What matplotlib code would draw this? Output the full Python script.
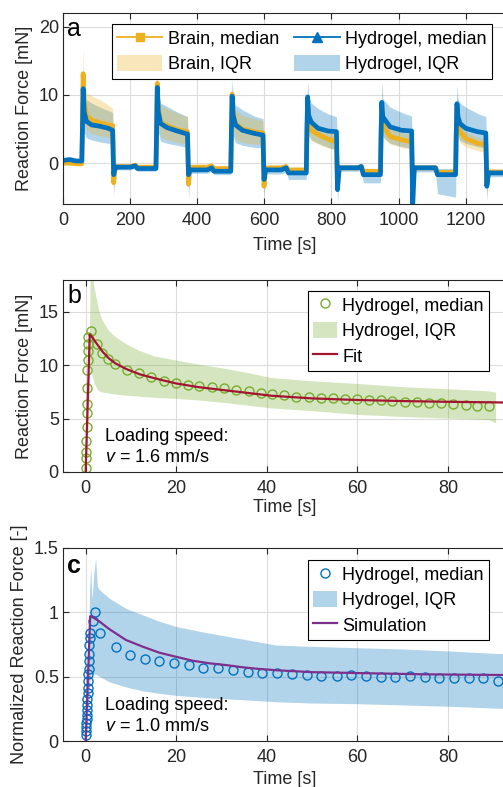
import numpy as np
import matplotlib
matplotlib.use("Agg")
import matplotlib.pyplot as plt
from matplotlib.lines import Line2D
from matplotlib.patches import Patch

plt.rcParams['font.family'] = ['Liberation Sans', 'DejaVu Sans']
plt.rcParams['mathtext.fontset'] = 'custom'
plt.rcParams['mathtext.it'] = 'Liberation Sans:italic'
plt.rcParams['mathtext.rm'] = 'Liberation Sans'

YEL = '#EDB120'
BLU = '#0072BD'
GRN = '#77AC30'
RED = '#A2142F'
PUR = '#7E2F8E'
DK = '#262626'
FS = 13

# ---- panel a: cyclic loading, median and IQR
t_a = [0, 20, 40, 56, 58, 60, 63, 70, 85, 110, 135, 148, 151, 156, 200, 215, 222, 277,
       279, 281, 284, 291, 310, 340, 371, 374, 379, 430, 443, 450, 500,
       502, 504, 507, 514, 535, 570, 596, 599, 604, 650, 665, 672, 725,
       727, 729, 732, 740, 760, 790, 815, 818, 823, 880, 889, 895, 946,
       948, 950, 953, 960, 975, 1010, 1039, 1042, 1047, 1110, 1116, 1170,
       1172, 1174, 1177, 1183, 1200, 1235, 1260, 1263, 1268, 1350]
brain_med = [0.0, 0.0, -0.1, -0.1, 6.0, 13.1, 9.0, 7.0, 6.3, 5.9, 5.6, 5.5, -2.9, -0.5, -0.5, -0.3, -0.6, -0.6,
             5.0, 11.7, 8.0, 6.0, 5.5, 4.9, 4.6, -3.1, -0.6, -0.6, -0.4, -0.8, -0.8,
             5.0, 10.1, 7.5, 5.8, 5.0, 4.6, 4.4, -3.4, -0.7, -0.7, -0.5, -1.0, -1.0,
             4.5, 8.7, 5.8, 4.8, 4.2, 3.5, 3.1, -3.5, -0.7, -0.7, -0.5, -1.2, -1.2,
             4.5, 8.3, 5.8, 5.0, 3.9, 3.4, 3.1, -3.0, -0.7, -0.7, -1.35, -1.35,
             4.5, 8.0, 5.5, 4.6, 3.6, 2.9, 2.7, -3.0, -1.3, -1.3]
brain_q3 = [0.3, 0.3, 0.2, 0.2, 9.0, 17.0, 11.5, 10.3, 9.9, 9.3, 8.5, 8.0, 1.0, -0.2, -0.2, 0.0, -0.3, -0.3,
            8.5, 13.0, 10.5, 8.5, 8.0, 7.3, 6.8, 0.5, -0.3, -0.3, -0.1, -0.5, -0.5,
            8.0, 11.5, 9.5, 7.8, 7.0, 6.5, 6.2, 0.5, -0.4, -0.4, -0.2, -0.7, -0.7,
            7.0, 10.0, 7.5, 6.2, 5.6, 4.8, 4.4, 0.5, -0.4, -0.4, -0.2, -0.9, -0.9,
            7.0, 9.5, 7.0, 6.2, 5.0, 4.5, 4.2, 0.5, -0.4, -0.4, -1.0, -1.0,
            6.5, 9.0, 6.5, 5.6, 4.6, 3.8, 3.5, 0.5, -1.0, -1.0]
brain_q1 = [-0.3, -0.3, -0.4, -0.4, 3.0, 9.0, 6.0, 4.8, 4.3, 4.0, 3.8, 3.7, -5.0, -0.8, -0.8, -0.6, -0.9, -0.9,
            2.5, 9.5, 5.5, 3.8, 3.4, 3.0, 2.8, -5.0, -0.9, -0.9, -0.7, -1.1, -1.1,
            2.5, 8.5, 5.0, 3.5, 3.0, 2.8, 2.7, -5.0, -1.0, -1.0, -0.8, -1.3, -1.3,
            2.0, 7.0, 4.0, 3.3, 2.8, 2.2, 1.9, -5.0, -1.0, -1.0, -0.8, -1.5, -1.5,
            2.0, 6.5, 4.0, 3.5, 2.8, 2.3, 2.0, -5.0, -1.0, -1.0, -1.7, -1.7,
            2.0, 6.0, 3.8, 3.0, 2.4, 1.8, 1.6, -5.0, -1.6, -1.6]
hydro_med = [0.4, 0.5, 0.3, 0.3, 5.0, 10.9, 7.5, 6.1, 5.6, 5.4, 5.1, 4.8, -1.7, -0.6, -0.6, -0.4, -0.8, -0.8,
             5.0, 11.1, 7.5, 5.8, 5.2, 4.7, 4.25, -1.7, -1.0, -1.0, -0.7, -1.2, -1.2,
             5.0, 9.8, 7.0, 5.6, 4.8, 4.35, 4.1, -2.4, -1.0, -1.0, -0.7, -1.45, -1.45,
             5.0, 9.7, 7.0, 6.0, 5.1, 4.7, 4.6, -3.9, -0.7, -0.7, -0.5, -1.7, -1.7,
             4.5, 8.9, 6.8, 6.3, 5.3, 4.8, 4.7, -6.5, -0.7, -0.7, -1.7, -1.7,
             4.5, 8.7, 6.8, 5.8, 5.1, 4.6, 4.4, -3.4, -1.45, -1.45]
hydro_q3 = [0.8, 0.9, 0.7, 0.7, 8.0, 14.0, 10.5, 9.3, 8.8, 8.2, 7.7, 7.4, 1.0, -0.2, -0.2, 0.0, -0.4, -0.4,
            8.0, 13.5, 10.5, 8.8, 8.3, 7.5, 6.8, 1.0, -0.6, -0.6, -0.3, -0.7, -0.7,
            8.0, 12.5, 9.8, 8.5, 7.8, 6.9, 6.5, 0.5, -0.5, -0.5, -0.2, -0.8, -0.8,
            8.0, 12.0, 9.8, 8.8, 8.0, 7.2, 6.8, 0.5, -0.2, -0.2, 0.0, -1.0, -1.0,
            7.5, 12.0, 9.5, 9.0, 8.2, 7.4, 6.9, 0.5, -0.2, -0.2, -0.8, -0.8,
            7.5, 11.5, 9.5, 8.8, 8.2, 7.3, 6.8, 0.5, -1.0, -1.0]
hydro_q1 = [0.0, 0.1, -0.1, -0.1, 2.0, 7.5, 4.5, 3.7, 3.4, 3.1, 2.9, 2.7, -4.5, -1.0, -1.0, -0.8, -1.2, -1.2,
            2.0, 8.0, 4.5, 3.2, 2.9, 2.6, 2.3, -5.0, -1.5, -1.5, -1.2, -1.7, -1.7,
            2.0, 7.0, 4.0, 3.0, 2.6, 2.3, 2.2, -5.0, -1.6, -1.6, -1.3, -2.4, -2.4,
            2.0, 6.5, 4.2, 3.4, 2.9, 2.3, 2.0, -6.0, -1.2, -1.2, -1.0, -2.9, -2.9,
            2.0, 6.0, 4.0, 3.5, 2.9, 2.4, 2.2, -7.0, -1.3, -1.3, -4.5, -5.0,
            2.0, 6.0, 4.0, 3.3, 2.9, 2.4, 2.2, -5.5, -2.0, -2.0]

# ---- panel b: single relaxation, hydrogel, v = 1.6 mm/s
t_b = [0.0, 0.05, 0.1, 0.15, 0.2, 0.25, 0.3, 0.35, 0.4, 0.45, 0.5, 0.55, 0.6,
       1.1, 2.6, 3.7, 5.0, 6.5, 9.1, 11.8, 14.4, 17.2, 19.9, 22.5, 25.1, 27.9, 30.6,
       33.3, 36.0, 38.7, 41.2, 43.8, 46.5, 49.3, 51.9, 54.5, 57.3, 59.9, 62.5, 65.2,
       67.7, 70.5, 73.1, 75.8, 78.5, 81.2, 83.9, 86.5, 89.1]
med_b = [0.4, 1.3, 1.9, 2.9, 4.2, 5.5, 6.4, 7.9, 9.6, 10.5, 11.3, 12.0, 12.7,
         13.2, 12.0, 11.2, 10.56, 10.1, 9.6, 9.25, 8.87, 8.56, 8.37, 8.2, 8.06, 7.93, 7.84,
         7.69, 7.59, 7.43, 7.33, 7.22, 7.06, 7.03, 6.96, 6.91, 6.84, 6.84, 6.75, 6.72,
         6.68, 6.59, 6.56, 6.50, 6.44, 6.37, 6.28, 6.22, 6.22]
t_band_b = [0, 0.4, 0.8, 1.0, 1.4, 2.0, 2.5, 3.0, 3.7, 5, 6.5, 9, 11.8, 15, 19.9, 25, 31, 36,
            41, 50, 60, 70, 80, 89, 90.5]
q3_b = [0, 5, 12, 18.5, 18.5, 17, 16, 15, 14.2, 13.3, 12.7, 12.0, 11.4, 10.9, 10.5, 10.1, 9.7,
        9.3, 8.85, 8.55, 8.3, 8.0, 7.8, 7.6, 7.5]
q1_b = [0, 3, 8, 10.5, 9.0, 8.2, 7.8, 7.6, 7.5, 7.4, 7.3, 7.2, 7.1, 7.0, 6.9, 6.75, 6.5,
        6.25, 6.0, 5.75, 5.4, 5.2, 5.05, 4.9, 4.6]
t_fit = [0, 0.9, 1.5, 2.5, 3.7, 5, 6.5, 9, 12, 14.4, 17, 20, 25, 31, 36, 41, 50, 60, 70, 80, 90, 95]
fit_b = [0, 12.9, 12.6, 12.0, 11.3, 10.7, 10.2, 9.65, 9.15, 8.88, 8.6, 8.3, 7.95, 7.65, 7.4,
         7.15, 6.9, 6.75, 6.65, 6.58, 6.53, 6.5]

# ---- panel c: normalized, v = 1.0 mm/s
t_c = [0.0, 0.05, 0.1, 0.15, 0.2, 0.25, 0.3, 0.35, 0.4, 0.45, 0.5, 0.55, 0.6, 0.65, 0.7,
       0.75, 0.8, 0.85, 0.9,
       1.6, 2.0, 3.2, 6.7, 9.7, 13.1, 16.2, 19.5, 22.8, 26.0, 29.2, 32.5, 35.8, 39.0, 42.3,
       45.5, 48.8, 52.0, 55.4, 58.5, 61.9, 65.2, 68.3, 71.6, 74.9, 78.1, 81.3, 84.7, 87.8, 91.1]
med_c = [0.05, 0.08, 0.11, 0.14, 0.17, 0.2, 0.24, 0.28, 0.33, 0.37, 0.41, 0.47, 0.52, 0.56,
         0.62, 0.68, 0.75, 0.80, 0.84,
         0.93, 1.0, 0.84, 0.73, 0.67, 0.64, 0.62, 0.605, 0.59, 0.57, 0.565, 0.55, 0.54, 0.53,
         0.526, 0.521, 0.513, 0.507, 0.507, 0.510, 0.505, 0.50, 0.50, 0.507, 0.50, 0.487,
         0.487, 0.492, 0.487, 0.469]
t_band_c = [0, 0.5, 0.9, 1.1, 1.4, 1.8, 2.2, 2.6, 3.2, 5.2, 8.9, 12.6, 16.3, 19.9, 27, 35,
            42, 50, 60, 70, 80, 91, 95]
q3_c = [0, 0.5, 1.2, 1.35, 1.1, 1.3, 1.42, 1.2, 1.17, 1.11, 1.03, 0.98, 0.93, 0.89, 0.84,
        0.79, 0.746, 0.735, 0.725, 0.715, 0.70, 0.68, 0.68]
q1_c = [0, 0.2, 0.45, 0.5, 0.52, 0.52, 0.52, 0.51, 0.5, 0.46, 0.42, 0.39, 0.37, 0.355,
        0.335, 0.32, 0.305, 0.295, 0.29, 0.28, 0.27, 0.255, 0.25]
t_sim = [0, 1.0, 1.4, 3, 5.2, 8.9, 12.6, 16.3, 19.9, 23.6, 27.3, 31, 34.6, 38.3, 42, 50, 63,
         75, 91.4, 95]
sim_c = [0, 0.97, 0.966, 0.93, 0.87, 0.785, 0.733, 0.686, 0.655, 0.624, 0.604, 0.59, 0.573,
         0.56, 0.55, 0.535, 0.526, 0.518, 0.513, 0.512]


def style(ax):
    ax.grid(True, color='#dcdcdc', lw=0.8)
    ax.set_axisbelow(True)
    ax.tick_params(direction='in', length=4, width=0.8, top=True, right=True,
                   colors=DK, labelsize=FS)
    ax.tick_params(axis='x', pad=6)
    ax.tick_params(axis='y', pad=3)
    for s in ax.spines.values():
        s.set_color(DK)
        s.set_linewidth(0.8)


def legend(ax, handles, labels, anchor, **kw):
    lg = ax.legend(handles, labels, loc='upper left', bbox_to_anchor=anchor,
                   borderaxespad=0, fontsize=FS, handleheight=1.0, handletextpad=0.3,
                   labelspacing=0.4, fancybox=False, framealpha=1, edgecolor='black',
                   borderpad=0.3, **kw)
    lg.get_frame().set_linewidth(0.8)


fig = plt.figure(figsize=(5.03, 7.87), dpi=100)
W = 453 / 503
L = 63 / 503
ax_a = fig.add_axes([L, (787 - 204) / 787, W, 191 / 787])
ax_b = fig.add_axes([L, (787 - 472) / 787, W, 192 / 787])
ax_c = fig.add_axes([L, (787 - 741) / 787, W, 193 / 787])

# panel a
ax_a.fill_between(t_a, hydro_q1, hydro_q3, color=BLU, alpha=0.3, lw=0)
ax_a.fill_between(t_a, brain_q1, brain_q3, color=YEL, alpha=0.3, lw=0)
ax_a.plot(t_a, brain_med, color=YEL, lw=3.4)
ax_a.plot(t_a, hydro_med, color=BLU, lw=3.4)
ax_a.set_xlim(0, 1350)
ax_a.set_ylim(-6, 22)
ax_a.set_xticks(range(0, 1400, 200))
ax_a.set_yticks([0, 10, 20])
style(ax_a)
ax_a.set_ylabel('Reaction Force [mN]', fontsize=FS, color=DK)
ax_a.set_xlabel('Time [s]', fontsize=FS, color=DK)
ax_a.text(0.009, 0.88, 'a', transform=ax_a.transAxes, fontsize=18, va='baseline')
h_a = [Line2D([], [], color=YEL, marker='s', ms=6, lw=1.3),
       Patch(facecolor=YEL, alpha=0.3, lw=0),
       Line2D([], [], color=BLU, marker='^', ms=7, lw=1.3),
       Patch(facecolor=BLU, alpha=0.3, lw=0)]
legend(ax_a, h_a, ['Brain, median', 'Brain, IQR', 'Hydrogel, median', 'Hydrogel, IQR'],
       (0.108, 0.942), ncol=2, handlelength=2.5, columnspacing=0.85)

# panel b
ax_b.fill_between(t_band_b, q1_b, q3_b, color=GRN, alpha=0.3, lw=0)
ax_b.plot(t_b, med_b, 'o', mfc='none', mec=GRN, ms=6.5, mew=1.0)
ax_b.plot(t_fit, fit_b, color=RED, lw=1.6)
ax_b.set_xlim(-5, 95)
ax_b.set_ylim(0, 18)
ax_b.set_xticks(range(0, 100, 20))
ax_b.set_yticks([0, 5, 10, 15])
style(ax_b)
ax_b.set_ylabel('Reaction Force [mN]', fontsize=FS, color=DK)
ax_b.set_xlabel('Time [s]', fontsize=FS, color=DK)
ax_b.text(0.009, 0.88, 'b', transform=ax_b.transAxes, fontsize=18, va='baseline')
ax_b.text(4.3, 2.35, 'Loading speed:\n$v$ = 1.6 mm/s', fontsize=FS, va='center',
          linespacing=1.25)
h_b = [Line2D([], [], ls='none', marker='o', mfc='none', mec=GRN, ms=6.5, mew=1.0),
       Patch(facecolor=GRN, alpha=0.3, lw=0),
       Line2D([], [], color=RED, lw=1.6)]
legend(ax_b, h_b, ['Hydrogel, median', 'Hydrogel, IQR', 'Fit'], (0.541, 0.943),
       handlelength=1.3)

# panel c
ax_c.fill_between(t_band_c, q1_c, q3_c, color=BLU, alpha=0.3, lw=0)
ax_c.plot(t_c, med_c, 'o', mfc='none', mec=BLU, ms=6.5, mew=1.0)
ax_c.plot(t_sim, sim_c, color=PUR, lw=1.6)
ax_c.set_xlim(-5, 95)
ax_c.set_ylim(0, 1.5)
ax_c.set_xticks(range(0, 100, 20))
ax_c.set_yticks([0, 0.5, 1, 1.5])
ax_c.set_yticklabels(['0', '0.5', '1', '1.5'])
style(ax_c)
ax_c.set_ylabel('Normalized Reaction Force [-]', fontsize=FS, color=DK)
ax_c.set_xlabel('Time [s]', fontsize=FS, color=DK)
ax_c.text(0.009, 0.87, 'c', transform=ax_c.transAxes, fontsize=18, va='baseline',
          fontweight='bold')
ax_c.text(4.3, 0.194, 'Loading speed:\n$v$ = 1.0 mm/s', fontsize=FS, va='center',
          linespacing=1.25)
h_c = [Line2D([], [], ls='none', marker='o', mfc='none', mec=BLU, ms=6.5, mew=1.0),
       Patch(facecolor=BLU, alpha=0.3, lw=0),
       Line2D([], [], color=PUR, lw=1.6)]
legend(ax_c, h_c, ['Hydrogel, median', 'Hydrogel, IQR', 'Simulation'], (0.541, 0.938),
       handlelength=1.3)

# label placement
for ax, yx, xy in [(ax_a, -0.084, -0.215), (ax_b, -0.084, -0.1875), (ax_c, -0.095, -0.202)]:
    ax.yaxis.set_label_coords(yx, 0.5)
    ax.yaxis.label.set_va('center')
    ax.xaxis.set_label_coords(0.49, xy)
    ax.xaxis.label.set_va('center')

fig.savefig('out.png', dpi=100)
